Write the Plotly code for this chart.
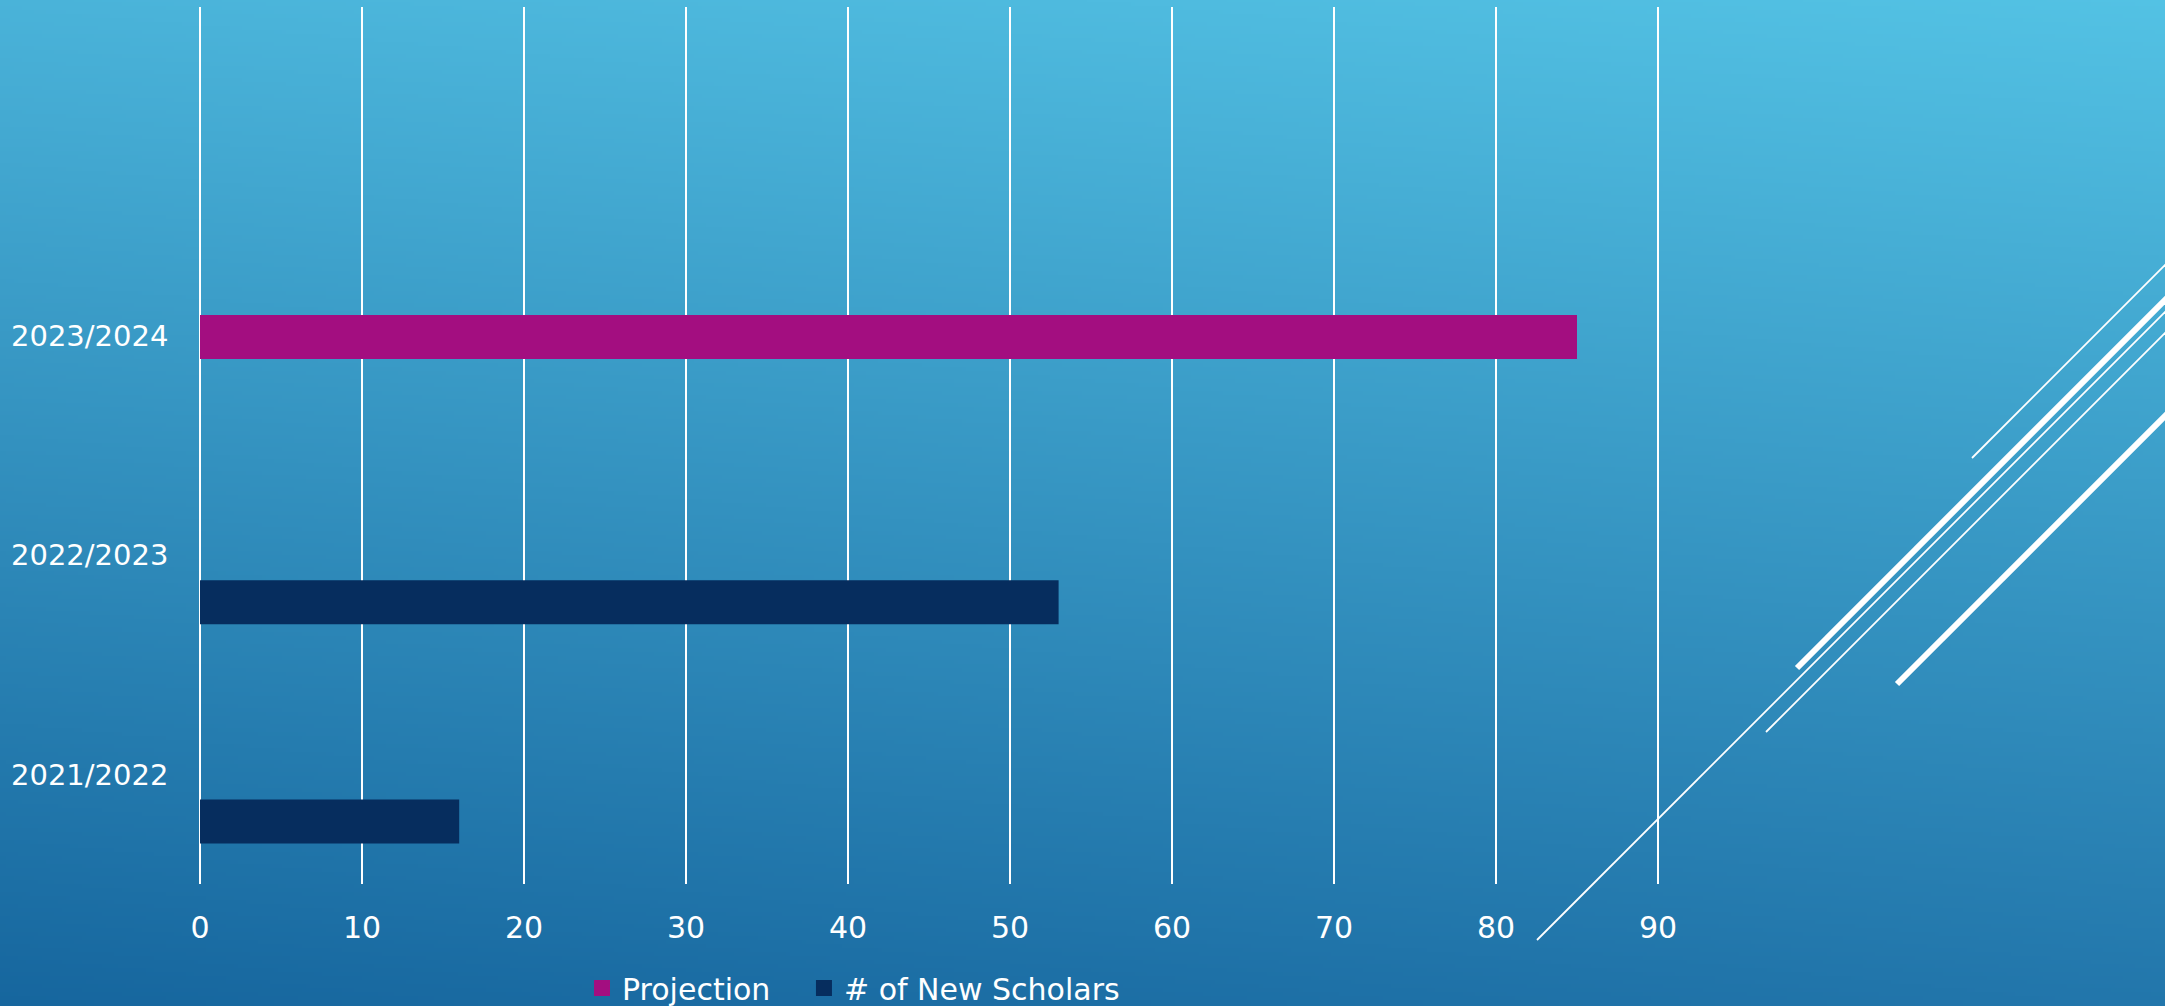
import base64
import struct
import zlib

import numpy as np
import plotly.graph_objects as go

# ---------------- data ----------------
years = ["2021/2022", "2022/2023", "2023/2024"]
scholars_years = ["2021/2022", "2022/2023"]
scholars_values = [16, 53]
projection_years = ["2023/2024"]
projection_values = [85]
x_ticks = [0, 10, 20, 30, 40, 50, 60, 70, 80, 90]
series_names = ["Projection", "# of New Scholars"]
series_colors = ["#A30E80", "#062D5E"]

W, H = 2165, 1006
FONT = "Century Gothic, DejaVu Sans, sans-serif"


# ---------------- background gradient (decoration) ----------------
def gradient_png(w, h):
    tl = np.array([0x4A, 0xB3, 0xD9], float)
    tr = np.array([0x53, 0xC2, 0xE4], float)
    bl = np.array([0x16, 0x66, 0x9E], float)
    br = np.array([0x22, 0x76, 0xAB], float)
    u = np.linspace(0, 1, w)[None, :, None]
    v = np.linspace(0, 1, h)[:, None, None]
    top = tl * (1 - u) + tr * u
    bot = bl * (1 - u) + br * u
    img = top * (1 - v) + bot * v
    arr = np.clip(np.round(img), 0, 255).astype(np.uint8)
    raw = b"".join(b"\x00" + arr[r].tobytes() for r in range(h))

    def chunk(tag, data):
        c = struct.pack(">I", len(data)) + tag + data
        return c + struct.pack(">I", zlib.crc32(tag + data) & 0xFFFFFFFF)

    png = b"\x89PNG\r\n\x1a\n"
    png += chunk(b"IHDR", struct.pack(">IIBBBBB", w, h, 8, 2, 0, 0, 0))
    png += chunk(b"IDAT", zlib.compress(raw, 9))
    png += chunk(b"IEND", b"")
    return "data:image/png;base64," + base64.b64encode(png).decode()


bg = gradient_png(541, 251)

fig = go.Figure()
fig.add_trace(go.Bar(
    name=series_names[0], y=projection_years, x=projection_values, orientation="h",
    marker=dict(color=series_colors[0], line=dict(width=0)), offset=-0.105, width=0.2,
    showlegend=False,
))
fig.add_trace(go.Bar(
    name=series_names[1], y=scholars_years, x=scholars_values, orientation="h",
    marker=dict(color=series_colors[1], line=dict(width=0)), offset=-0.315, width=0.2,
    showlegend=False,
))
# legend entries (larger square swatches like the original)
pad = ["\u00a0\u00a0\u00a0", ""]
for name, color, p in zip(series_names, series_colors, pad):
    fig.add_trace(go.Scatter(
        x=[None], y=[None], mode="markers", name=name + p,
        marker=dict(symbol="square", size=18, color=color, line=dict(width=0)),
        showlegend=True, hoverinfo="skip",
    ))

# plot area in pixels (0 -> x=200, 90 -> x=1658)
px_per_unit = (1658 - 200) / 90
xpad = 0.1
x0 = 200 - xpad * px_per_unit
x1 = 1658 + xpad * px_per_unit
y_top, y_bot = 7, 884

# decorative diagonal lines (pixel coords -> paper)
deco = [
    ((1537, 940), (2200, 277), 1.8),
    ((1972, 458), (2200, 230), 1.8),
    ((1797, 668), (2200, 265), 6),
    ((1766, 732), (2200, 298), 1.8),
    ((1897, 684), (2200, 381), 6),
]
shapes = []
for (ax, ay), (bx, by), lw in deco:
    shapes.append(dict(
        type="line", xref="paper", yref="paper",
        x0=ax / W, y0=1 - ay / H, x1=bx / W, y1=1 - by / H,
        line=dict(color="white", width=lw), layer="above",
    ))

fig.update_layout(
    width=W, height=H,
    margin=dict(l=0, r=0, t=0, b=0, autoexpand=False),
    paper_bgcolor="rgba(0,0,0,0)",
    plot_bgcolor="rgba(0,0,0,0)",
    barmode="overlay",
    font=dict(family=FONT, color="white", size=30),
    images=[dict(source=bg, xref="paper", yref="paper", x=0, y=1, sizex=1, sizey=1,
                 sizing="stretch", layer="below", xanchor="left", yanchor="top")],
    shapes=shapes,
    xaxis=dict(
        domain=[x0 / W, x1 / W], range=[-xpad, 90 + xpad], tickvals=x_ticks,
        showgrid=True, gridcolor="white", gridwidth=1.5, zeroline=False,
        showline=False, ticks="", ticklabelstandoff=23, automargin=False,
        tickfont=dict(family=FONT, size=30, color="white"),
    ),
    yaxis=dict(
        domain=[1 - y_bot / H, 1 - y_top / H], type="category",
        categoryorder="array", categoryarray=years, range=[-0.5, 3.5],
        showgrid=False, zeroline=False, showline=False, ticks="",
        ticklabelstandoff=29, automargin=False,
        tickfont=dict(family=FONT, size=29, color="white"),
    ),
    showlegend=True,
    legend=dict(
        orientation="h", x=582 / W, xanchor="left", y=1 - 988 / H, yanchor="middle",
        font=dict(family=FONT, size=30, color="white"), bgcolor="rgba(0,0,0,0)",
        traceorder="normal", itemsizing="trace",
    ),
)

fig.write_html("out.html")
